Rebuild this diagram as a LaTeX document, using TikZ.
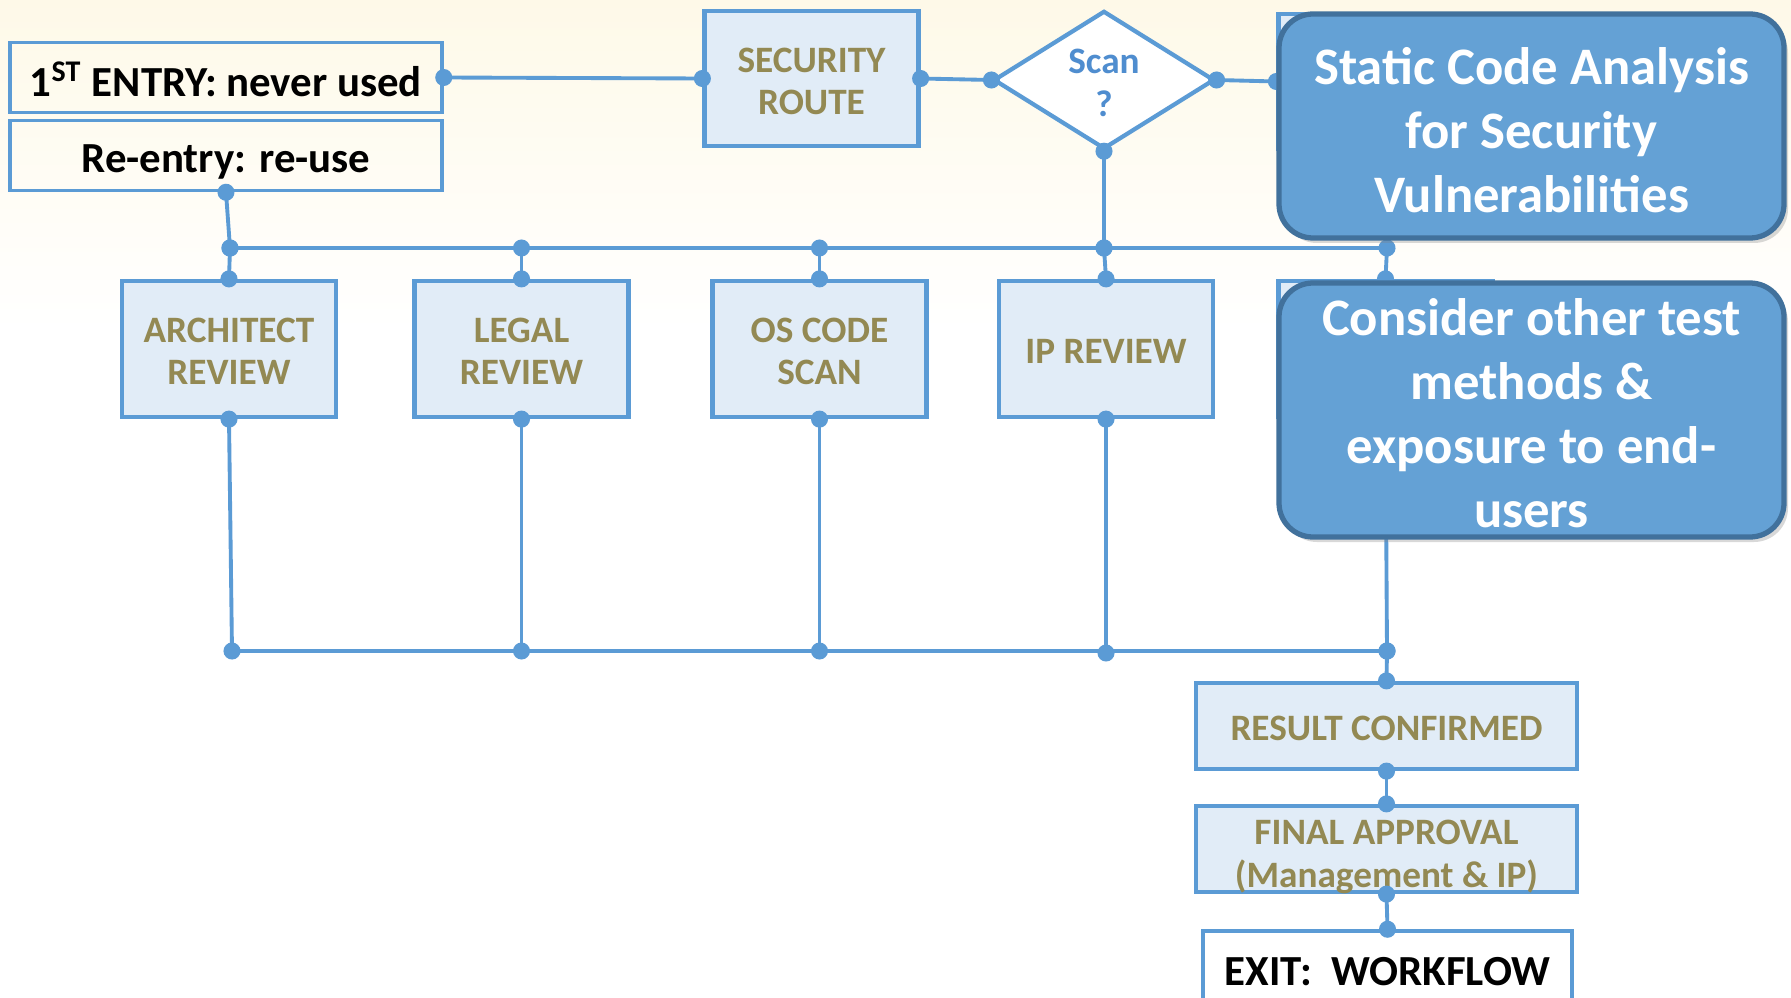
\documentclass[tikz,border=0pt]{standalone}
\usepackage{fontspec}
\setmainfont{Carlito}
\usepackage{tikz}
\usetikzlibrary{shapes.geometric, arrows.meta, shadows}
\definecolor{FlowBlue}{HTML}{5B9BD5}
\definecolor{BoxFill}{HTML}{E1ECF7}
\definecolor{LabelOlive}{HTML}{938953}
\definecolor{ScanBlue}{HTML}{4F8DCF}
\definecolor{CalloutBlue}{HTML}{64A1D5}
\definecolor{CalloutEdge}{HTML}{41719C}
\definecolor{BgCream}{HTML}{FEF9E8}
\tikzset{
  entrybox/.style={rectangle, draw=FlowBlue, line width=1pt, minimum width=43.2mm, minimum height=7mm, inner sep=0pt, font=\fontsize{12.2}{14.6}\selectfont\bfseries, align=center},
  reviewbox/.style={rectangle, draw=FlowBlue, line width=1.2pt, fill=BoxFill, minimum width=21.4mm, minimum height=13.6mm, inner sep=0pt, text=LabelOlive, font=\fontsize{10.6}{12}\selectfont\bfseries, align=center},
  widebox/.style={reviewbox, minimum width=38.1mm, minimum height=8.6mm},
  decisionbox/.style={diamond, draw=FlowBlue, line width=1.2pt, fill=white, minimum width=22.1mm, minimum height=13.1mm, inner sep=0pt, text=ScanBlue, font=\fontsize{10.6}{12}\selectfont\bfseries, align=center},
  calloutbox/.style={rectangle, rounded corners=3.4mm, draw=CalloutEdge, line width=1.5pt, fill=CalloutBlue, minimum width=50.5mm, inner sep=0pt, drop shadow={shadow xshift=0.4mm, shadow yshift=-0.5mm, opacity=0.3}},
  callouttext/.style={text=white, font=\fontsize{15}{18.2}\selectfont\bfseries, align=center, inner sep=0pt},
  link/.style={FlowBlue, line width=1.1pt, arrows={Circle[length=1.7mm]-Circle[length=1.7mm]}, shorten <=-0.85mm, shorten >=-0.85mm},
  busline/.style={FlowBlue, line width=1.1pt}
}
% shift a label line down without changing its box
\newcommand{\lowered}[2]{\raisebox{-#1}[\height][\depth]{#2}}

\begin{document}
\begin{tikzpicture}[x=0.1mm, y=-0.1mm]
  \useasboundingbox (0,0) rectangle (1791,998);
  \clip (0,0) rectangle (1791,998);
  \fill[white] (0,0) rectangle (1791,998);
  \shade[top color=BgCream, bottom color=white] (0,0) rectangle (1791,330);

  \node[entrybox] (entry) at (226,77.5) {\lowered{0.15mm}{1\textsuperscript{ST} ENTRY: never used}};
  \node[entrybox] (reentry) at (226,155.5) {\lowered{0.65mm}{Re-entry: re-use}};
  \node[reviewbox, minimum height=13.5mm] (secroute) at (811.5,78.5) {\lowered{0.3mm}{SECURITY}\\\lowered{0.3mm}{ROUTE}};
  \node[decisionbox] (scan) at (1104,80) {\lowered{0.3mm}{Scan}\\\lowered{0.3mm}{?}};
  \node[reviewbox, minimum height=13.5mm] (sca) at (1385.5,81.5) {};

  \coordinate (t1) at (230,248);
  \coordinate (t2) at (521.5,248);
  \coordinate (t3) at (819.5,248);
  \coordinate (t4) at (1104,248);
  \coordinate (t5) at (1387,248);

  \node[reviewbox] (arch) at (229,349) {\lowered{0.25mm}{ARCHITECT}\\\lowered{0.25mm}{REVIEW}};
  \node[reviewbox] (legal) at (521.5,349) {\lowered{0.25mm}{LEGAL}\\\lowered{0.25mm}{REVIEW}};
  \node[reviewbox] (oscode) at (819.5,349) {\lowered{0.25mm}{OS CODE}\\\lowered{0.25mm}{SCAN}};
  \node[reviewbox] (ip) at (1106,349) {\lowered{0.25mm}{IP REVIEW}};
  \node[reviewbox] (other) at (1385.5,349) {};

  \coordinate (b1) at (232,651);
  \coordinate (b2) at (521.5,651);
  \coordinate (b3) at (819.5,651);
  \coordinate (b4) at (1106,653);
  \coordinate (b5) at (1387,651);

  \node[widebox] (result) at (1386.5,726) {\lowered{0.25mm}{RESULT CONFIRMED}};
  \node[widebox] (final) at (1386.5,849) {\lowered{0.8mm}{FINAL APPROVAL}\\\lowered{0.8mm}{(Management \& IP)}};
  \node[entrybox, fill=white, minimum width=36.9mm, minimum height=9mm] (exit) at (1387.5,976) {\lowered{-0.45mm}{EXIT:\ \ WORKFLOW}};

  \draw[link] (entry.east) -- (secroute.west);
  \draw[link] (secroute.east) -- (scan.west);
  \draw[link] (scan.east) -- (sca.west);
  \draw[link] (reentry.south) -- (t1);
  \draw[link] (scan.south) -- (t4);
  \draw[busline] (t1) -- (t5);
  \draw[busline] (b1) -- (b5);
  \foreach \t/\rv/\b in {t1/arch/b1, t2/legal/b2, t3/oscode/b3, t4/ip/b4, t5/other/b5} {
    \draw[link] (\t) -- (\rv.north);
    \draw[link] (\rv.south) -- (\b);
  }
  \draw[link] (b5) -- (result.north);
  \draw[link] (result.south) -- (final.north);
  \draw[link] (final.south) -- (exit.north);

  \node[calloutbox, minimum height=22.4mm] (scacall) at (1531.5,126) {};
  \node[callouttext] (scacalltext) at ([yshift=-0.45mm]scacall.center) {Static Code Analysis\\for Security\\Vulnerabilities};
  \node[calloutbox, minimum height=25.4mm] (othercall) at (1531.5,410) {};
  \node[callouttext] (othercalltext) at ([yshift=-0.35mm]othercall.center) {Consider other test\\methods \&\\exposure to end-\\users};
\end{tikzpicture}
\end{document}
